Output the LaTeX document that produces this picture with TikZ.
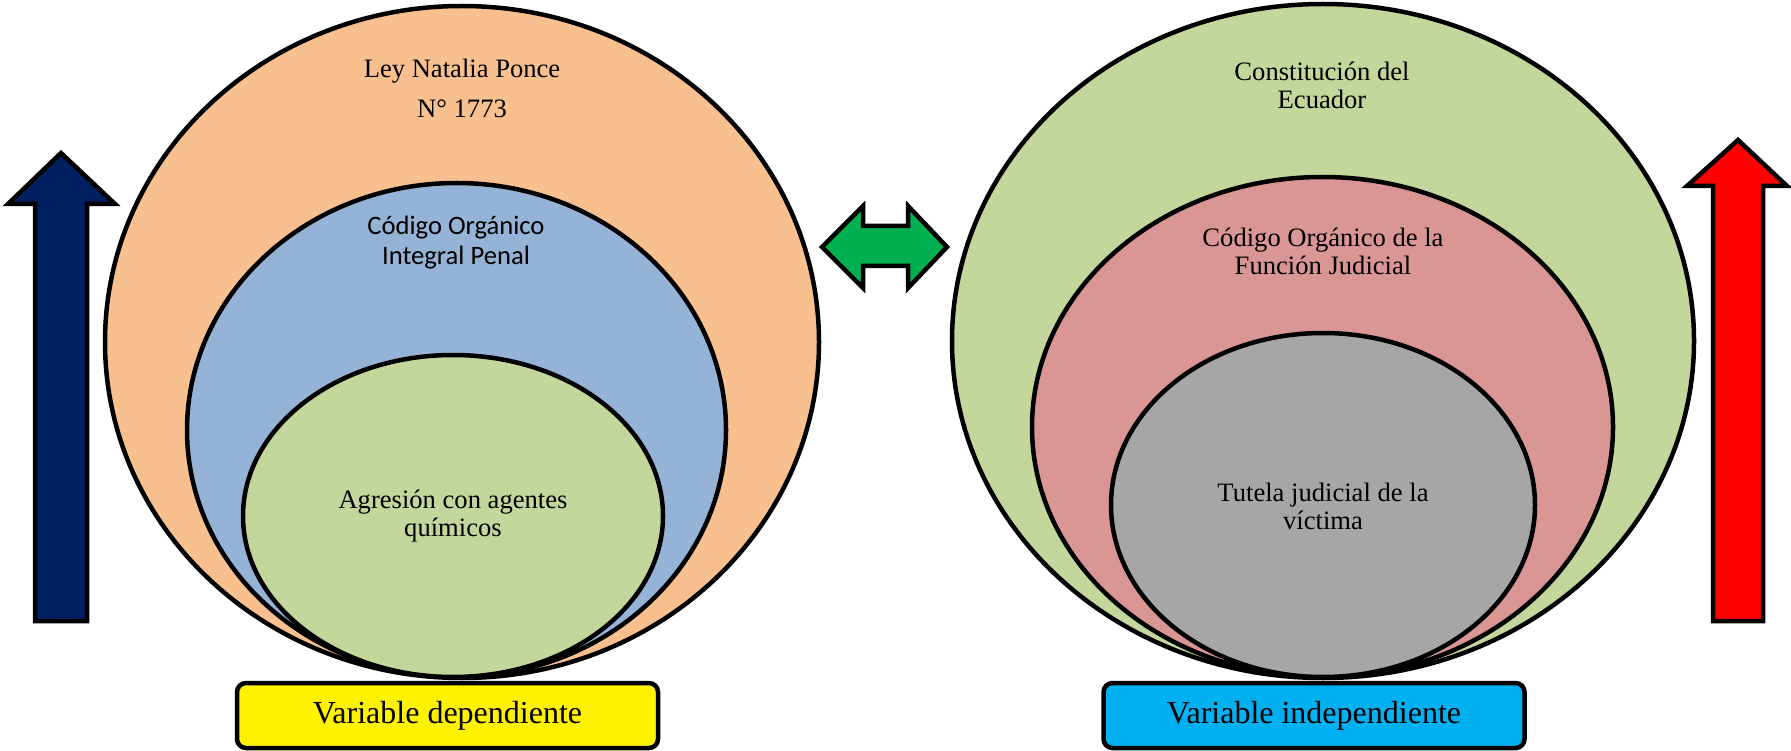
\documentclass[tikz,border=0pt]{standalone}
\usepackage{fontspec}
\setmainfont{Liberation Serif}
\newfontfamily\calibri{Carlito}
\usetikzlibrary{shapes.geometric}
\definecolor{naranja}{HTML}{F9C08F}
\definecolor{azulclaro}{HTML}{95B3D7}
\definecolor{verdeclaro}{HTML}{C3D69B}
\definecolor{rosa}{HTML}{D99694}
\definecolor{gris}{HTML}{A6A6A6}
\definecolor{marino}{HTML}{002060}
\definecolor{verde}{HTML}{00B050}
\definecolor{celeste}{HTML}{00B0F0}
\tikzset{
  elipse/.style={ellipse, draw=black, line width=4.5pt, inner sep=0pt},
  flecha/.style={draw=black, line width=4.5pt},
  caja/.style={draw=black, line width=4.5pt, rounded corners=9pt, minimum width=421pt,
    minimum height=65pt, inner sep=0pt, font=\fontsize{32}{34}\selectfont},
  texto/.style={align=center, inner sep=0pt, font=\fontsize{26.6}{28}\selectfont}
}
\begin{document}
\begin{tikzpicture}[x=1pt, y=-1pt]
\useasboundingbox (0, 0) rectangle (1791, 751);
% lado izquierdo
\node[elipse, fill=naranja, minimum width=714pt, minimum height=672pt] (ley) at (462, 342) {};
\node[elipse, fill=azulclaro, minimum width=539pt, minimum height=494pt] (coip) at (456.5, 430) {};
\node[elipse, fill=verdeclaro, minimum width=420pt, minimum height=322pt] (agresion) at (453, 516) {};
\node[texto] (tley) at (462, 88) {Ley Natalia Ponce\\[12pt]N° 1773};
\node[texto, font=\calibri\fontsize{26.6}{30}\selectfont] (tcoip) at (456, 243) {Código Orgánico\\Integral Penal};
\node[texto] (tagresion) at (453, 516) {Agresión con agentes\\químicos};
\node[caja, fill=yellow] (dependiente) at (447.5, 715.5) {Variable dependiente};
% lado derecho
\node[elipse, fill=verdeclaro, minimum width=742pt, minimum height=674pt] (constitucion) at (1323, 341) {};
\node[elipse, fill=rosa, minimum width=581pt, minimum height=500pt] (cofj) at (1322.5, 427) {};
\node[elipse, fill=gris, minimum width=424pt, minimum height=344pt] (tutela) at (1323, 505) {};
\node[texto] (tconstitucion) at (1322, 85) {Constitución del\\Ecuador};
\node[texto] (tcofj) at (1323, 251) {Código Orgánico de la\\Función Judicial};
\node[texto] (ttutela) at (1323, 506) {Tutela judicial de la\\víctima};
\node[caja, fill=celeste] (independiente) at (1314, 715.5) {Variable independiente};
% flechas
\draw[flecha, fill=marino] (61, 153) -- (115, 204) -- (87, 204) -- (87, 621) -- (35, 621)
  -- (35, 204) -- (8, 204) -- cycle;
\draw[flecha, fill=red] (1738, 140) -- (1787, 186) -- (1763, 186) -- (1763, 621) -- (1713, 621)
  -- (1713, 186) -- (1687, 186) -- cycle;
\draw[flecha, fill=verde] (822, 247) -- (863, 206) -- (863, 226) -- (908, 226) -- (908, 206)
  -- (947, 247) -- (908, 288) -- (908, 266) -- (863, 266) -- (863, 288) -- cycle;
\end{tikzpicture}
\end{document}
